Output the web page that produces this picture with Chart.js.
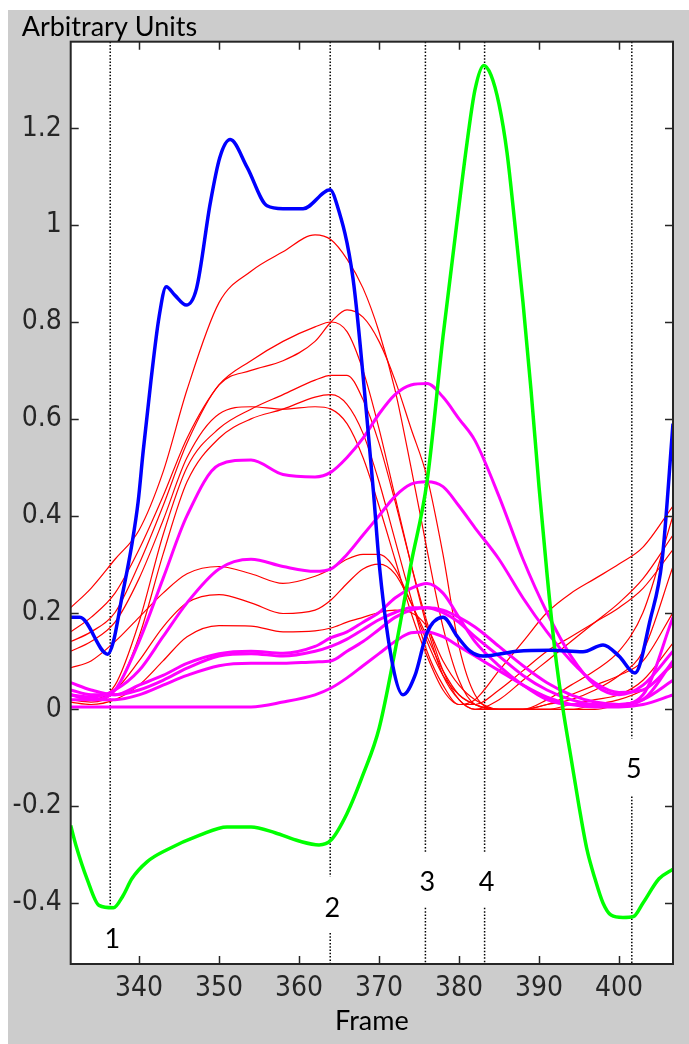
<!DOCTYPE html>
<html>
<head>
<meta charset="utf-8">
<script src="https://cdn.jsdelivr.net/npm/chart.js@4.4.1/dist/chart.umd.min.js"></script>
<style>
  html, body { margin: 0; padding: 0; background: #fff; }
  #wrap { width: 689px; height: 1044px; }
</style>
</head>
<body>
<div id="wrap"><canvas id="chart" width="689" height="1044"></canvas></div>
<script>
// axis limits and tick labels
const xMin = 331.46, xMax = 406.75;
const yMin = -0.526, yMax = 1.379;
const xTickValues = [340, 350, 360, 370, 380, 390, 400];
const yTickValues = [-0.4, -0.2, 0, 0.2, 0.4, 0.6, 0.8, 1, 1.2];

// shared frame grid for the red and magenta traces
const frames = [331.46, 334, 337, 340, 343, 346, 350, 354, 358, 362, 364, 366, 368, 370,
                372, 374, 376, 378, 380, 382, 385, 388, 391, 394, 397, 400, 403, 406.75];

const redA = [0.21, 0.25, 0.31, 0.37, 0.49, 0.66, 0.84, 0.905, 0.945, 0.98, 0.97, 0.93, 0.87, 0.78,
              0.66, 0.5, 0.33, 0.17, 0.06, 0.01, 0, 0, 0.02, 0.05, 0.08, 0.12, 0.2, 0.4];
const redB = [0.16, 0.19, 0.24, 0.33, 0.44, 0.56, 0.67, 0.72, 0.76, 0.79, 0.8, 0.78, 0.7, 0.58,
              0.44, 0.3, 0.17, 0.07, 0.02, 0, 0.02, 0.06, 0.1, 0.14, 0.18, 0.22, 0.27, 0.36];
const redC = [0.14, 0.16, 0.2, 0.3, 0.42, 0.55, 0.67, 0.7, 0.72, 0.76, 0.8, 0.825, 0.81, 0.76,
              0.68, 0.58, 0.48, 0.32, 0.13, 0.03, 0, 0, 0.01, 0.02, 0.04, 0.07, 0.12, 0.295];
const redD = [0.12, 0.14, 0.18, 0.27, 0.39, 0.52, 0.61, 0.625, 0.62, 0.625, 0.62, 0.59, 0.52, 0.42,
              0.31, 0.2, 0.11, 0.04, 0.01, 0.01, 0.04, 0.08, 0.12, 0.15, 0.18, 0.21, 0.25, 0.33];
const redE = [0.02, 0.02, 0.05, 0.18, 0.36, 0.5, 0.58, 0.62, 0.65, 0.68, 0.69, 0.69, 0.64, 0.55,
              0.43, 0.3, 0.18, 0.08, 0.02, 0, 0, 0, 0.01, 0.03, 0.05, 0.07, 0.1, 0.2];
const redF = [0.02, 0.015, 0.04, 0.15, 0.32, 0.47, 0.56, 0.6, 0.62, 0.645, 0.65, 0.63, 0.57, 0.47,
              0.35, 0.23, 0.12, 0.05, 0.01, 0.02, 0.08, 0.14, 0.2, 0.24, 0.27, 0.3, 0.335, 0.42];
const redG = [0.086, 0.1, 0.14, 0.19, 0.24, 0.28, 0.295, 0.28, 0.26, 0.275, 0.29, 0.31, 0.32, 0.32,
              0.29, 0.22, 0.14, 0.07, 0.03, 0.01, 0, 0, 0, 0.01, 0.02, 0.03, 0.06, 0.137];
const redH = [0.02, 0.02, 0.04, 0.1, 0.17, 0.22, 0.237, 0.22, 0.198, 0.205, 0.226, 0.26, 0.29, 0.3,
              0.28, 0.22, 0.15, 0.08, 0.03, 0.01, 0, 0, 0, 0, 0.01, 0.02, 0.04, 0.09];
const redI = [0.015, 0.01, 0.02, 0.05, 0.1, 0.15, 0.173, 0.172, 0.16, 0.162, 0.168, 0.18, 0.19, 0.2,
              0.205, 0.2, 0.17, 0.1, 0.05, 0.02, 0, 0, 0, 0, 0, 0.01, 0.02, 0.06];

const magA = [0.03, 0.02, 0.04, 0.14, 0.27, 0.4, 0.505, 0.515, 0.485, 0.48, 0.49, 0.52, 0.56, 0.61,
              0.65, 0.67, 0.673, 0.645, 0.6, 0.555, 0.44, 0.31, 0.2, 0.11, 0.05, 0.03, 0.05, 0.12];
const magB = [0.03, 0.025, 0.04, 0.08, 0.15, 0.22, 0.29, 0.31, 0.295, 0.285, 0.29, 0.32, 0.36, 0.4,
              0.44, 0.465, 0.47, 0.46, 0.42, 0.375, 0.31, 0.23, 0.16, 0.1, 0.055, 0.035, 0.04, 0.095];
const magC = [0.055, 0.04, 0.03, 0.05, 0.07, 0.095, 0.115, 0.12, 0.116, 0.13, 0.148, 0.16, 0.18, 0.2,
              0.23, 0.25, 0.26, 0.24, 0.19, 0.14, 0.09, 0.05, 0.02, 0.01, 0.01, 0.01, 0.03, 0.19];
const magD = [0.04, 0.03, 0.03, 0.04, 0.06, 0.085, 0.11, 0.115, 0.11, 0.12, 0.13, 0.145, 0.165, 0.185,
              0.2, 0.21, 0.21, 0.2, 0.18, 0.15, 0.11, 0.07, 0.04, 0.02, 0.01, 0.01, 0.02, 0.1];
const magE = [0.02, 0.02, 0.02, 0.03, 0.05, 0.07, 0.09, 0.095, 0.095, 0.098, 0.1, 0.12, 0.14, 0.165,
              0.19, 0.205, 0.21, 0.205, 0.19, 0.17, 0.13, 0.09, 0.055, 0.03, 0.015, 0.01, 0.02, 0.06];
const magF = [0.005, 0.005, 0.005, 0.005, 0.005, 0.005, 0.005, 0.005, 0.015, 0.03, 0.044, 0.065, 0.09, 0.115,
              0.14, 0.158, 0.16, 0.15, 0.13, 0.11, 0.08, 0.05, 0.025, 0.01, 0.005, 0.005, 0.01, 0.03];

const redSeries = [redA, redB, redC, redD, redE, redF, redG, redH, redI];
const magentaSeries = [magA, magB, magC, magD, magE, magF];

// blue trace
const blueFrames = [331.46, 332.6, 336.1, 336.8, 337.8, 339.1, 339.9, 340.5, 341.5, 342.5, 343.4, 344.5,
                    345.9, 347.2, 348.9, 350.1, 351.4, 353.5, 356, 358, 360.5, 363.9, 364.6, 366.75,
                    368.5, 369.3, 370.1, 371.75, 373, 374.5, 376, 378, 379.8, 381.4, 383, 387.3,
                    391.4, 395.5, 398, 400, 402, 403.9, 405.4, 406.75];
const blueValues = [0.19, 0.19, 0.114, 0.14, 0.226, 0.34, 0.43, 0.53, 0.68, 0.81, 0.873, 0.855,
                    0.835, 0.87, 1.045, 1.14, 1.177, 1.12, 1.04, 1.034, 1.034, 1.073, 1.05, 0.89,
                    0.6, 0.45, 0.288, 0.088, 0.03, 0.07, 0.158, 0.19, 0.15, 0.12, 0.11, 0.12,
                    0.122, 0.119, 0.133, 0.11, 0.075, 0.185, 0.31, 0.59];

// green trace
const greenFrames = [331.46, 332.1, 333.5, 335, 336.8, 338, 339.1, 341, 343.5, 347.6, 351, 354, 357,
                     360, 362.5, 364, 366, 368, 370, 372, 374, 376, 378, 380, 381, 382, 383.1, 384,
                     385, 386, 387, 388, 389, 390, 391, 392, 393, 394, 395, 396, 397, 398, 399,
                     400.5, 401.8, 403, 405, 406.75];
const greenValues = [-0.24, -0.28, -0.35, -0.405, -0.41, -0.385, -0.35, -0.315, -0.29, -0.26, -0.243,
                     -0.243, -0.255, -0.272, -0.28, -0.27, -0.215, -0.135, -0.04, 0.12, 0.3, 0.47,
                     0.77, 1.04, 1.17, 1.28, 1.33, 1.31, 1.25, 1.15, 1.0, 0.84, 0.66, 0.46, 0.28,
                     0.12, 0.0, -0.1, -0.2, -0.29, -0.35, -0.4, -0.425, -0.43, -0.428, -0.4, -0.35, -0.33];

// numbered event markers
const markerFrames = [336.4, 363.9, 375.8, 383.2, 401.6];
const markerNames = ['1', '2', '3', '4', '5'];
const markerUpperEnd = [-0.41, -0.346, -0.297, -0.297, -0.06];
const markerLowerStart = [null, -0.462, -0.41, -0.41, -0.18];
const markerNameY = [-0.476, -0.41, -0.358, -0.358, -0.124];

function pts(xs, ys) {
    return xs.map((x, i) => ({ x: x, y: ys[i] }));
}

function trace(data, color, width, order) {
    return {
        data: data,
        borderColor: color,
        borderWidth: width,
        pointRadius: 0,
        fill: false,
        cubicInterpolationMode: 'monotone',
        order: order
    };
}

const datasets = [];
markerFrames.forEach((f, i) => {
    const d = [{ x: f, y: yMax }, { x: f, y: markerUpperEnd[i] }];
    if (markerLowerStart[i] !== null) {
        d.push({ x: f, y: null }, { x: f, y: markerLowerStart[i] }, { x: f, y: yMin });
    }
    datasets.push({
        data: d, borderColor: '#000', borderWidth: 1.5, borderDash: [1.5, 1.8],
        pointRadius: 0, spanGaps: false, tension: 0, order: 5
    });
});
redSeries.forEach(s => datasets.push(trace(pts(frames, s), '#ff0000', 1.2, 4)));
magentaSeries.forEach(s => datasets.push(trace(pts(frames, s), '#ff00ff', 3, 3)));
datasets.push(trace(pts(greenFrames, greenValues), '#00ff00', 3.5, 2));
datasets.push(trace(pts(blueFrames, blueValues), '#0000ff', 3.5, 1));

const textFont = '27px Lato, "Open Sans", sans-serif';
const tickFont = { family: '"Liberation Sans Narrow", "DejaVu Sans Condensed", "Liberation Sans"', size: 28 };

const frameDecor = {
    id: 'frameDecor',
    beforeDraw(chart) {
        const ctx = chart.ctx, a = chart.chartArea;
        ctx.save();
        ctx.fillStyle = '#cccccc';
        ctx.fillRect(8, 10, chart.width - 8, chart.height - 10);
        ctx.fillStyle = '#ffffff';
        ctx.fillRect(a.left, a.top, a.right - a.left, a.bottom - a.top);
        ctx.restore();
    },
    afterDatasetsDraw(chart) {
        const ctx = chart.ctx, a = chart.chartArea;
        const xs = chart.scales.x, ys = chart.scales.y;
        ctx.save();
        ctx.strokeStyle = '#262626';
        ctx.lineWidth = 1.5;
        ctx.beginPath();
        xTickValues.forEach(v => {
            const px = Math.round(xs.getPixelForValue(v)) + 0.5;
            ctx.moveTo(px, a.bottom); ctx.lineTo(px, a.bottom - 8);
            ctx.moveTo(px, a.top); ctx.lineTo(px, a.top + 8);
        });
        yTickValues.forEach(v => {
            const py = Math.round(ys.getPixelForValue(v)) + 0.5;
            ctx.moveTo(a.left, py); ctx.lineTo(a.left + 8, py);
            ctx.moveTo(a.right, py); ctx.lineTo(a.right - 8, py);
        });
        ctx.stroke();
        ctx.lineWidth = 2;
        ctx.strokeRect(a.left, a.top, a.right - a.left, a.bottom - a.top);

        ctx.fillStyle = '#000';
        ctx.font = textFont;
        ctx.textAlign = 'center';
        ctx.textBaseline = 'middle';
        markerFrames.forEach((f, i) => {
            ctx.fillText(markerNames[i], xs.getPixelForValue(f) + 2, ys.getPixelForValue(markerNameY[i]));
        });
        ctx.textBaseline = 'alphabetic';
        ctx.textAlign = 'left';
        ctx.fillText('Arbitrary Units', 21.7, 36);
        ctx.textAlign = 'center';
        ctx.fillText('Frame', (a.left + a.right) / 2, 1030);
        ctx.restore();
    }
};

new Chart(document.getElementById('chart').getContext('2d'), {
    type: 'line',
    data: { datasets: datasets },
    plugins: [frameDecor],
    options: {
        responsive: false,
        animation: false,
        layout: { padding: { left: 8, top: 41.7, right: 16, bottom: 0 } },
        plugins: { legend: { display: false }, tooltip: { enabled: false } },
        scales: {
            x: {
                type: 'linear', min: xMin, max: xMax,
                afterBuildTicks: s => { s.ticks = xTickValues.map(v => ({ value: v })); },
                afterFit: s => { s.height = 80; },
                grid: { display: false, drawTicks: false },
                border: { display: false },
                ticks: { padding: 8, color: '#262626', font: tickFont, maxRotation: 0,
                         callback: v => String(v) }
            },
            y: {
                type: 'linear', min: yMin, max: yMax,
                afterBuildTicks: s => { s.ticks = yTickValues.map(v => ({ value: v })); },
                afterFit: s => { s.width = 62.7; },
                grid: { display: false, drawTicks: false },
                border: { display: false },
                ticks: { padding: 9, color: '#262626', font: tickFont,
                         callback: v => String(Math.round(v * 10) / 10) }
            }
        }
    }
});
</script>
</body>
</html>
